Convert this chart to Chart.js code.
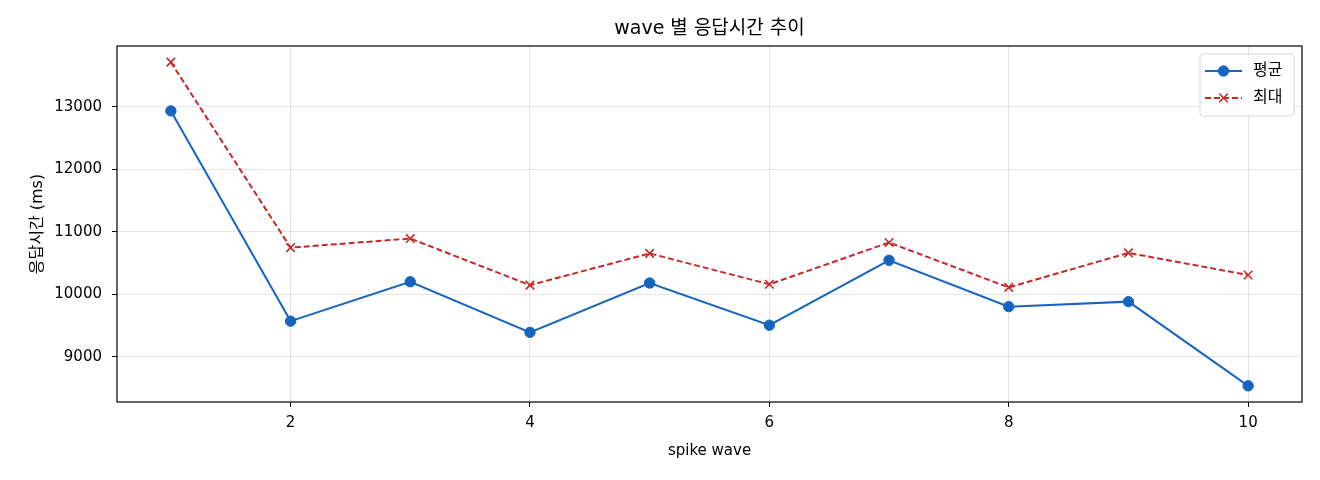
<!DOCTYPE html>
<html>
<head>
<meta charset="utf-8">
<script src="https://cdn.jsdelivr.net/npm/chart.js@4/dist/chart.umd.min.js"></script>
<style>
  html, body { margin: 0; padding: 0; background: #fff; }
  #wrap { width: 1320px; height: 480px; }
</style>
</head>
<body>
<div id="wrap"><canvas id="waveChart" width="1320" height="480"></canvas></div>
<script>
// wave 별 응답시간 데이터
const waves = [1, 2, 3, 4, 5, 6, 7, 8, 9, 10];
const avgMs = [12936, 9570, 10200, 9390, 10180, 9505, 10544, 9802, 9882, 8534];
const maxMs = [13716, 10746, 10892, 10146, 10654, 10160, 10828, 10110, 10662, 10308];
const xTicks = [2, 4, 6, 8, 10];
const yTicks = [9000, 10000, 11000, 12000, 13000];
const chartTitle = 'wave 별 응답시간 추이';

const FONT = '"DejaVu Sans", "Noto Sans CJK KR", sans-serif';
const BLUE = '#1565C0';
const RED = '#C62828';

// 제목(플롯 영역 기준 가운데) + 테두리 + 범례 (matplotlib 스타일)
const frameAndLegend = {
    id: 'frameAndLegend',
    afterDraw(chart) {
        const { ctx, chartArea: a } = chart;
        ctx.save();
        ctx.fillStyle = '#000';
        ctx.font = '19px ' + FONT;
        ctx.textAlign = 'center';
        ctx.textBaseline = 'middle';
        ctx.fillText(chartTitle, (a.left + a.right) / 2, 29);

        ctx.strokeStyle = '#000';
        ctx.lineWidth = 1.2;
        ctx.strokeRect(a.left, a.top, a.width, a.height);

        const bw = 94, bh = 62;
        const bx = a.right - bw - 8, by = a.top + 8;
        ctx.beginPath();
        ctx.roundRect(bx, by, bw, bh, 3);
        ctx.fillStyle = 'rgba(255,255,255,0.85)';
        ctx.fill();
        ctx.strokeStyle = '#d6d6d6';
        ctx.lineWidth = 1;
        ctx.stroke();

        chart.data.datasets.forEach((ds, i) => {
            const y = by + 17 + i * 27;
            ctx.strokeStyle = ds.borderColor;
            ctx.lineWidth = ds.borderWidth;
            ctx.setLineDash(ds.borderDash || []);
            ctx.beginPath();
            ctx.moveTo(bx + 5, y);
            ctx.lineTo(bx + 42, y);
            ctx.stroke();
            ctx.setLineDash([]);
            ctx.fillStyle = ds.pointBackgroundColor;
            ctx.strokeStyle = ds.pointBorderColor;
            ctx.lineWidth = ds.pointBorderWidth;
            Chart.helpers.drawPoint(ctx, {
                pointStyle: ds.pointStyle, radius: ds.pointRadius,
                borderWidth: ds.pointBorderWidth, rotation: 0
            }, bx + 23.5, y);
            ctx.fillStyle = '#000';
            ctx.font = '16px ' + FONT;
            ctx.textBaseline = 'middle';
            ctx.textAlign = 'left';
            ctx.fillText(ds.label, bx + 53, y);
        });
        ctx.restore();
    }
};

const ctx = document.getElementById('waveChart').getContext('2d');
new Chart(ctx, {
    type: 'line',
    data: {
        datasets: [{
            label: '평균',
            data: waves.map((w, i) => ({ x: w, y: avgMs[i] })),
            borderColor: BLUE,
            backgroundColor: BLUE,
            borderWidth: 2,
            pointStyle: 'circle',
            pointRadius: 5.2,
            pointBackgroundColor: BLUE,
            pointBorderColor: BLUE,
            pointBorderWidth: 1,
            tension: 0
        }, {
            label: '최대',
            data: waves.map((w, i) => ({ x: w, y: maxMs[i] })),
            borderColor: RED,
            backgroundColor: RED,
            borderWidth: 2,
            borderDash: [6, 3],
            pointStyle: 'crossRot',
            pointRadius: 6,
            pointBackgroundColor: RED,
            pointBorderColor: RED,
            pointBorderWidth: 1.6,
            tension: 0
        }]
    },
    options: {
        responsive: false,
        animation: false,
        layout: { padding: { left: 0, right: 18, top: 46, bottom: 0 } },
        plugins: {
            legend: { display: false },
            tooltip: { enabled: false },
            title: { display: false }
        },
        scales: {
            x: {
                type: 'linear',
                min: 0.55,
                max: 10.45,
                afterBuildTicks: s => { s.ticks = xTicks.map(v => ({ value: v })); },
                afterFit: s => { s.height = 78; },
                grid: { color: 'rgba(0,0,0,0.1)', tickColor: '#000', tickLength: 5 },
                border: { display: false },
                ticks: { color: '#000', font: { family: FONT, size: 15 }, padding: 7, maxRotation: 0 },
                title: {
                    display: true, text: 'spike wave', color: '#000',
                    font: { family: FONT, size: 15 }, padding: { top: 0, bottom: 20 }
                }
            },
            y: {
                min: 8275,
                max: 13975,
                afterBuildTicks: s => { s.ticks = yTicks.map(v => ({ value: v })); },
                afterFit: s => { s.width = 117; },
                grid: { color: 'rgba(0,0,0,0.1)', tickColor: '#000', tickLength: 5 },
                border: { display: false },
                ticks: {
                    color: '#000', font: { family: FONT, size: 15 }, padding: 10,
                    callback: v => String(v)
                },
                title: {
                    display: true, text: '응답시간 (ms)', color: '#000',
                    font: { family: FONT, size: 16 }, padding: { top: 28, bottom: 0 }
                }
            }
        }
    },
    plugins: [frameAndLegend]
});
</script>
</body>
</html>
